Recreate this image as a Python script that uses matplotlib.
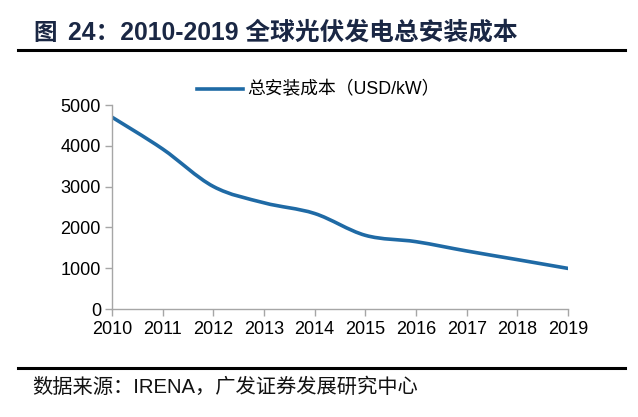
import numpy as np
import matplotlib
matplotlib.use("Agg")
import matplotlib.pyplot as plt
from matplotlib.path import Path
from matplotlib.patches import PathPatch
from matplotlib.lines import Line2D

plt.rcParams['font.family'] = ['Liberation Sans', 'Noto Sans CJK SC', 'DejaVu Sans']

years = [2010, 2011, 2012, 2013, 2014, 2015, 2016, 2017, 2018, 2019]
cost = [4702, 3921, 3003, 2603, 2341, 1806, 1650, 1422, 1210, 995]
yticks = [0, 1000, 2000, 3000, 4000, 5000]
title_fig = '图'
title_rest = '24：2010-2019 全球光伏发电总安装成本'
source = '数据来源：IRENA，广发证券发展研究中心'
series_name = '总安装成本（USD/kW）'
blue = '#1f6aa5'
navy = '#1a2744'

fig = plt.figure(figsize=(6.38, 4.17), dpi=100)
ax = fig.add_axes([112/638, 1-309/417, (568-112)/638, (309-105)/417])

# smoothed line (Catmull-Rom as cubic Bezier, like Excel's smooth line)
x = np.array(years, float)
y = np.array(cost, float)
verts = [(x[0], y[0])]
codes = [Path.MOVETO]
n = len(x)
for i in range(n - 1):
    p0 = (x[i-1], y[i-1]) if i > 0 else (x[i], y[i])
    p3 = (x[i+2], y[i+2]) if i + 2 < n else (x[i+1], y[i+1])
    p1 = (x[i], y[i]); p2 = (x[i+1], y[i+1])
    c1 = (p1[0] + (p2[0]-p0[0])/6, p1[1] + (p2[1]-p0[1])/6)
    c2 = (p2[0] - (p3[0]-p1[0])/6, p2[1] - (p3[1]-p1[1])/6)
    verts += [c1, c2, p2]
    codes += [Path.CURVE4]*3
ax.add_patch(PathPatch(Path(verts, codes), fill=False, edgecolor=blue, lw=2.6,
                       capstyle='round', joinstyle='round'))

ax.set_xlim(2010, 2019)
ax.set_ylim(0, 5000)
ax.set_xticks(years)
ax.set_yticks(yticks)
ax.tick_params(axis='both', labelsize=13, color='#a6a6a6', length=5, width=1, direction='out')
ax.tick_params(axis='x', pad=4)
ax.tick_params(axis='y', pad=3)
for s in ['top', 'right']:
    ax.spines[s].set_visible(False)
for s in ['left', 'bottom']:
    ax.spines[s].set_color('#a6a6a6')
    ax.spines[s].set_linewidth(1)

# legend
fig.add_artist(Line2D([197/638, 243/638], [1-89/417]*2, color=blue, lw=2.6,
                      transform=fig.transFigure))
fig.text(247/638, 1-89/417, series_name, fontsize=12.8, va='center', ha='left')

# title and rules
fig.text(33/638, 1-33/417, title_fig, fontsize=17, fontweight='bold', va='center',
         ha='left', color=navy)
fig.text(68/638, 1-33/417, title_rest, fontsize=17.8, fontweight='bold', va='center',
         ha='left', color=navy)
fig.add_artist(Line2D([18/638, 625/638], [1-50/417]*2, color='black', lw=2.2,
                      transform=fig.transFigure))
fig.add_artist(Line2D([18/638, 625/638], [1-368/417]*2, color='black', lw=2.2,
                      transform=fig.transFigure))
fig.text(32/638, 1-387/417, source, fontsize=14.6, va='center', ha='left', color='#111111')

fig.savefig('out.png', dpi=100)
